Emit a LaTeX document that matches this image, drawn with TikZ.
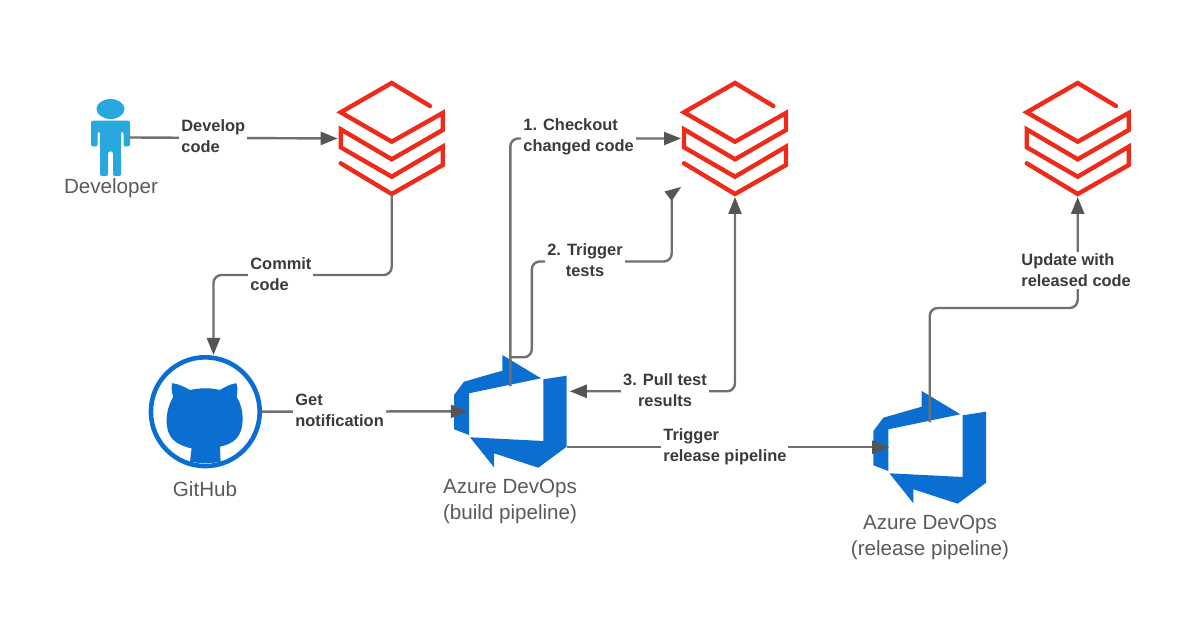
\documentclass[tikz,border=0pt]{standalone}
\usepackage{fontspec}
\setmainfont{Liberation Sans}
\usetikzlibrary{arrows.meta,calc}
\definecolor{dbred}{HTML}{EE2A1A}
\definecolor{azblue}{HTML}{0B6FD2}
\definecolor{manblue}{HTML}{29A8E0}
\definecolor{conn}{HTML}{707070}
\definecolor{tipc}{HTML}{555555}
\definecolor{lblc}{HTML}{3A3A3A}
\definecolor{capc}{HTML}{5A5A5A}
\tikzset{
  x=0.5pt,y=-0.5pt,
  box/.style={inner sep=0pt,outer sep=0pt,minimum width=#1},
  connline/.style={draw=conn,line width=1.2pt,rounded corners=4pt},
  tipped/.style={-{Triangle[length=8.5pt,width=6.5pt,color=tipc]}},
  lbl/.style={fill=white,inner sep=1pt,align=left,text=lblc,font=\fontsize{8.2}{10.5}\selectfont\bfseries},
  captxt/.style={align=center,text=capc,inner sep=0pt,font=\fontsize{10.3}{13}\selectfont},
  db icon/.pic={
    \draw[dbred,line width=2.2pt,line join=miter,line cap=round]
      (38.3,-32.5)--(0,-55.5)--(-51,-26.2)--(0,3.2)--(51,-25.5)--(51,-8.5)--(0,20.8)--(-51,-9.2)--(-51,8.8)--(0,38.2)--(51,8.2)--(51,26.5)--(0,55.5)--(-51,24.8);
  },
  ado icon/.pic={
    \fill[azblue] (-8,-56.3)--(30.7,-33)--(-41.3,-18)--(-41.3,23.7)--(-56.3,18)--(-56.3,-16.3)--(-46.3,-29.6)--(-8,-40.6)--cycle;
    \fill[azblue] (33,-32)--(56.4,-35.6)--(56.4,35.4)--(28,56.4)--(-16.3,42)--(-16.3,56)--(-40.3,26)--(33,29.7)--cycle;
  },
  octo icon/.pic={
    \fill[azblue] (-15.3,50) -- (-13.7,36.7)
      .. controls (-30,33) and (-38.7,26) .. (-38.7,9)
      .. controls (-38.7,0) and (-36,-8) .. (-32,-15)
      .. controls (-34,-20) and (-34,-25) .. (-33,-28.5)
      .. controls (-28,-28) and (-21,-25) .. (-15.3,-21.7)
      .. controls (-5,-24) and (5,-24) .. (14.7,-21.7)
      .. controls (20,-25) and (26,-28) .. (31,-28.5)
      .. controls (32.5,-25) and (32.5,-20) .. (31.3,-15)
      .. controls (35,-9) and (37.3,-2) .. (37.3,7)
      .. controls (37.3,26) and (28,32) .. (14.7,35)
      -- (15.3,50) .. controls (5,52) and (-5,52) .. (-15.3,50) -- cycle;
  },
  man icon/.pic={
    \fill[manblue] (0,-28.5) ellipse [x radius=14,y radius=10];
    \fill[manblue,rounded corners=1pt] (-19.5,-16.8)--(19.5,-16.8)--(19.5,9)--(13,9)--(13,-5.8)--(10.5,-5.8)--(10.5,38.5)--(2.5,38.5)--(2.5,14)--(-2.5,14)--(-2.5,38.5)--(-10.5,38.5)--(-10.5,-5.8)--(-13,-5.8)--(-13,9)--(-19.5,9)--cycle;
  },
}
\begin{document}
\begin{tikzpicture}
\useasboundingbox (0,0) rectangle (1200,630);
\fill[white] (0,0) rectangle (1200,630);
% icon nodes
\node[box=19.5pt,minimum height=38.5pt] (dev) at (110.5,137.5) {};
\node[box=51pt,minimum height=55.5pt] (db1) at (391.7,138.5) {};
\node[box=51pt,minimum height=55.5pt] (db2) at (735,138.5) {};
\node[box=51pt,minimum height=55.5pt] (db3) at (1077.7,138.5) {};
\node[box=56.5pt,minimum height=56.5pt] (ado1) at (510.3,411.3) {};
\node[box=56.5pt,minimum height=56.5pt] (ado2) at (929.7,447.3) {};
\node[circle,draw=azblue,line width=2.3pt,minimum size=54.4pt,inner sep=0pt] (gh) at (205.3,411.7) {};
\pic at (dev) {man icon};
\pic at (db1) {db icon};
\pic at (db2) {db icon};
\pic at (db3) {db icon};
\pic at (ado1) {ado icon};
\pic at (ado2) {ado icon};
\pic at (gh) {octo icon};
% captions
\node[captxt] (cdev) at (111,188) {Developer};
\node[captxt] (cgh) at (205,489) {GitHub};
\node[captxt] (cado1) at (510,501) {Azure DevOps\\(build pipeline)};
\node[captxt] (cado2) at (930,537) {Azure DevOps\\(release pipeline)};
% connector ends
\coordinate (t2) at (671.7,199);
\coordinate (gtop) at ($(gh.north)+(8.2,0)$);
% connectors
\draw[connline,tipped] (dev.east) -- ($(db1.west)+(-3,0)$);
\draw[connline,tipped] (db1.south) |- ($(gtop)+(0,-80)$) -- (gtop);
\draw[connline,tipped] (gh.east) -- ($(ado1.west)+(14,0)$);
\draw[connline,tipped] ($(ado1.center)+(0,-25)$) |- ($(db2.west)+(-3,0)$);
\draw[connline] ($(ado1.center)+(0,-54)$) -- ++(21.5,0) |- (671.7,261.5) -- (t2);
\fill[tipc] (664.5,191.5) -- (681,187) -- (671.7,201) -- cycle;
\draw[connline,{Triangle[length=8.5pt,width=6.5pt,color=tipc]}-{Triangle[length=8.5pt,width=6.5pt,color=tipc]}] ($(ado1.east)+(3,-20)$) -| ($(db2.south)+(0,3)$);
\draw[connline,tipped] ($(ado1.east)+(0,36)$) -- ($(ado2.west)+(16,0)$);
\draw[connline,tipped] ($(ado2.center)+(0,-25)$) |- (1077.7,308) -- ($(db3.south)+(0,3)$);
% connector labels
\node[lbl,anchor=west] (l1) at (179,136.5) {Develop\\code};
\node[lbl,anchor=west] (l2) at (248,274.5) {Commit\\code};
\node[lbl,anchor=west] (l3) at (293,410.5) {Get\\notification};
\node[lbl,anchor=west] (l4) at (521,136.5) {1. Checkout\\changed code};
\node[lbl,align=center] (l5) at (585,260.5) {2. Trigger\\tests};
\node[lbl,align=center] (l6) at (665,390.5) {3. Pull test\\results};
\node[lbl,anchor=west] (l7) at (661,446.5) {Trigger\\release pipeline};
\node[lbl,anchor=west] (l8) at (1019,270.5) {Update with\\released code};
\end{tikzpicture}
\end{document}
